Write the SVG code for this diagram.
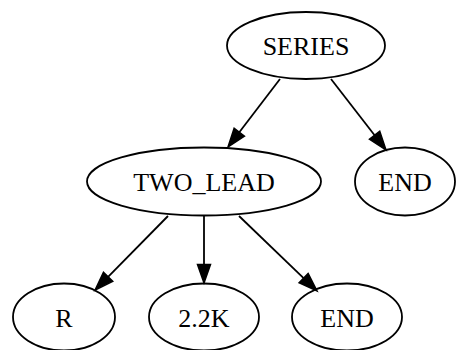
<svg xmlns="http://www.w3.org/2000/svg" width="457" height="350" viewBox="0 0 457 350">
<style>
.n ellipse{fill:none;stroke:#000;stroke-width:1.8}
.n text{font-family:"Liberation Serif","Times New Roman",serif;font-size:26px;text-anchor:middle;fill:#000}
.e line{stroke:#000;stroke-width:1.8}
</style>
<defs>
<marker id="ah" markerUnits="userSpaceOnUse" markerWidth="20" markerHeight="14" refX="0" refY="0" viewBox="0 -7 19 14" orient="auto" overflow="visible">
<path d="M0,-6.5 L18.6,0 L0,6.5 Z" fill="#000" stroke="#000" stroke-width="1.5"/>
</marker>
</defs>
<rect width="457" height="350" fill="#fff"/>
<g id="connectors" class="e">
<line x1="280" y1="79" x2="239.3" y2="132.2" marker-end="url(#ah)"/>
<line x1="331" y1="79" x2="374.6" y2="135.3" marker-end="url(#ah)"/>
<line x1="168" y1="216" x2="108.1" y2="276.8" marker-end="url(#ah)"/>
<line x1="204" y1="216" x2="204" y2="264.4" marker-end="url(#ah)"/>
<line x1="239" y1="216" x2="303.6" y2="278.1" marker-end="url(#ah)"/>
</g>
<g id="series" class="n"><ellipse cx="306" cy="45.5" rx="79" ry="33.5"/><text x="306" y="55">SERIES</text></g>
<g id="two_lead" class="n"><ellipse cx="204" cy="181.5" rx="117" ry="34"/><text x="204" y="191">TWO_LEAD</text></g>
<g id="end1" class="n"><ellipse cx="405" cy="181.5" rx="50" ry="34"/><text x="405" y="191">END</text></g>
<g id="r" class="n"><ellipse cx="64" cy="317" rx="51" ry="33.5"/><text x="64" y="327">R</text></g>
<g id="v22k" class="n"><ellipse cx="204" cy="317" rx="55" ry="33.5"/><text x="204" y="327">2.2K</text></g>
<g id="end2" class="n"><ellipse cx="347" cy="317" rx="55" ry="33.5"/><text x="347" y="327">END</text></g>
</svg>
